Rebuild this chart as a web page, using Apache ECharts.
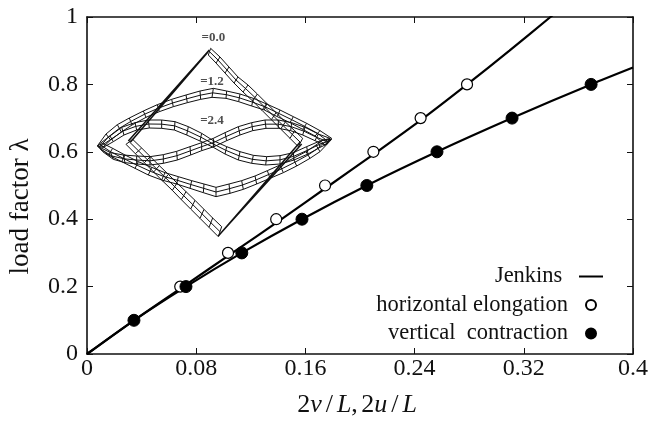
<!DOCTYPE html>
<html><head><meta charset="utf-8">
<style>html,body{margin:0;padding:0;background:#fff}#c{width:648px;height:421px}</style>
<script src="https://cdn.jsdelivr.net/npm/echarts@6/dist/echarts.min.js"></script>
</head><body><div id="c"></div>
<script>
// measured data
const jenkinsHorizontal = [[0,0],[0.0345,0.1],[0.0705,0.2],[0.1065,0.3],[0.1425,0.4],[0.1775,0.5],[0.2125,0.6],[0.2465,0.7],[0.2785,0.8],[0.3095,0.9],[0.3395,1.0],[0.35,1.036]];
const jenkinsVertical = [[0,0],[0.0345,0.1],[0.0725,0.2],[0.1134,0.3],[0.1575,0.4],[0.205,0.5],[0.2564,0.6],[0.3114,0.7],[0.3693,0.8],[0.4,0.85]];
const horizontalElongation = [[0.0683,0.2],[0.1033,0.3],[0.1386,0.4],[0.1744,0.5],[0.2098,0.6],[0.2444,0.7],[0.2784,0.8]];
const verticalContraction = [[0.0344,0.1],[0.0725,0.2],[0.1134,0.3],[0.1575,0.4],[0.205,0.5],[0.2564,0.6],[0.3114,0.7],[0.3693,0.8]];

// inset sketch: stations [xa,ya,xb,yb] in sketch units (y downward)
const flatBandA = [[392,115,385,135],[420,141,408,159],[447,171,435,189],[474,201,462,219],[504,225,489,246],[532,252,518,273],[560,280,546,301],[588,308,574,329],[616,336,602,357],[644,362,630,385],[668,385,655,410]];
const flatBandB = [[138,403,158,388],[166,431,185,414],[193,458,211,440],[221,486,238,467],[249,514,265,493],[277,541,291,519],[304,569,318,545],[332,597,345,571],[360,625,372,598],[387,652,398,624],[415,680,425,650]];
const edgeOnA = [[388,120,384,126],[145,393,151,397]];
const edgeOnB = [[660,397,665,402],[415,678,420,672]];
const midUpper = [[52,408,68,412],[78,372,92,390],[112,344,124,366],[148,324,156,345],[190,303,198,322],[232,284,238,305],[275,268,280,290],[318,255,322,278],[360,243,362,268],[400,235,396,262],[440,243,438,265],[480,252,476,275],[520,265,515,288],[560,282,553,300],[600,300,592,320],[640,320,630,338],[680,340,668,358],[720,362,705,378],[755,385,735,405]];
const midLower = [[52,408,68,400],[85,435,98,415],[125,455,135,435],[165,475,175,455],[205,495,215,472],[245,510,255,488],[290,522,295,500],[330,535,335,512],[370,548,372,522],[408,560,408,532],[450,550,447,522],[490,538,485,512],[530,522,525,498],[570,505,562,482],[610,488,600,465],[650,468,640,445],[690,445,678,425],[720,425,708,405],[755,388,728,390]];
const highCurveA = [[58,402,70,412],[90,378,100,395],[125,352,132,375],[165,338,170,360],[205,330,208,354],[245,330,245,355],[285,335,283,360],[325,350,320,375],[365,370,360,393],[400,392,400,412],[440,410,435,432],[480,425,475,450],[520,436,515,460],[560,440,557,465],[600,437,600,462],[640,428,642,450],[680,410,684,432],[715,395,720,412],[750,385,742,402]];
const highCurveB = [[55,410,68,425],[92,428,100,448],[130,435,135,458],[170,438,170,462],[210,440,210,465],[250,434,250,460],[290,424,292,450],[330,410,332,435],[365,398,365,422],[400,385,402,410],[435,368,440,392],[475,350,480,375],[515,338,518,362],[555,330,558,355],[595,330,595,355],[635,338,632,362],[675,352,668,375],[715,372,705,392],[750,385,735,405]];
const insetLabels = [[400,84,'=0.0'],[396,216,'=1.2'],[396,333,'=2.4']];

const BREAK = ['-','-'];
function band(st){
  const out=[];
  st.forEach(s=>out.push([s[0],s[1]])); out.push(BREAK);
  st.forEach(s=>out.push([(s[0]+s[2])/2,(s[1]+s[3])/2])); out.push(BREAK);
  st.forEach(s=>out.push([s[2],s[3]])); out.push(BREAK);
  st.forEach(s=>{out.push([s[0],s[1]],[s[2],s[3]],BREAK);});
  return out;
}
function rails(st){
  const out=[];
  st.forEach(s=>out.push([s[0],s[1]])); out.push(BREAK);
  st.forEach(s=>out.push([s[2],s[3]])); out.push(BREAK);
  return out;
}
function meshSeries(name,data,width){
  return {name,type:'line',xAxisIndex:2,yAxisIndex:2,data,showSymbol:false,symbol:'none',connectNulls:false,silent:true,animation:false,
    lineStyle:{color:'#111',width:width||1},z:1};
}
const serif='"Liberation Serif","Times New Roman",serif';
const ink='#111';
const tickOnly={show:true,inside:true,length:6,lineStyle:{color:ink,width:1}};
const line={show:true,onZero:false,lineStyle:{color:ink,width:1.6}};
const it={fontFamily:serif,fontStyle:'italic',fontSize:26,color:ink};
const rm={fontFamily:serif,fontSize:26,color:ink};
const rs={fontFamily:serif,fontSize:26,color:ink,padding:[0,4,0,4]};

const chart=echarts.init(document.getElementById('c'),null,{renderer:'canvas'});
chart.setOption({
  animation:false,
  backgroundColor:'#fff',
  grid:[{left:87,top:17,width:546,height:337,outerBoundsMode:'none'},{left:87,top:17,width:546,height:337,outerBoundsMode:'none'}],
  xAxis:[
    {type:'value',min:0,max:0.4,interval:0.08,gridIndex:0,position:'bottom',axisLine:line,axisTick:tickOnly,splitLine:{show:false},
     axisLabel:{fontFamily:serif,fontSize:24,color:ink,margin:3,hideOverlap:false,showMinLabel:true,showMaxLabel:true},
     name:'{r|2}{i|v}{s|/}{i|L}{r|,} {r|2}{i|u}{s|/}{i|L}',nameLocation:'middle',nameGap:38,
     nameTextStyle:{padding:[0,6,0,0],rich:{r:rm,i:it,s:rs}}},
    {type:'value',min:0,max:0.4,interval:0.08,gridIndex:0,position:'top',axisLine:line,axisTick:tickOnly,splitLine:{show:false},axisLabel:{show:false}},
    {type:'value',min:21,max:1659,gridIndex:1,show:false}
  ],
  yAxis:[
    {type:'value',min:0,max:1,interval:0.2,gridIndex:0,position:'left',axisLine:line,axisTick:tickOnly,splitLine:{show:false},
     axisLabel:{fontFamily:serif,fontSize:24,color:ink,margin:9},
     name:'load factor λ',nameLocation:'middle',nameGap:53,nameTextStyle:{fontFamily:serif,fontSize:27,color:ink,padding:[0,42,0,0]}},
    {type:'value',min:0,max:1,interval:0.2,gridIndex:0,position:'right',axisLine:line,axisTick:tickOnly,splitLine:{show:false},axisLabel:{show:false}},
    {type:'value',min:21,max:1032,inverse:true,gridIndex:1,show:false}
  ],
  legend:{orient:'vertical',align:'right',right:40,top:260,itemWidth:24,itemHeight:10,itemGap:5.5,
    selectedMode:false,
    data:[{name:'Jenkins',icon:'path://M0,0H24V2H0Z'},'horizontal elongation','vertical  contraction'],
    formatter:n=>n==='Jenkins'?n+' ':n,
    textStyle:{fontFamily:serif,fontSize:22.5,color:ink,padding:[0,6,0,0]}},
  series:[
    meshSeries('inset flat A',band(flatBandA)),
    meshSeries('inset flat B',band(flatBandB)),
    meshSeries('inset edge A',rails(edgeOnA),1.5),
    meshSeries('inset edge B',rails(edgeOnB),1.5),
    meshSeries('inset mid upper',band(midUpper)),
    meshSeries('inset mid lower',band(midLower)),
    meshSeries('inset high A',band(highCurveA)),
    meshSeries('inset high B',band(highCurveB)),
    {name:'inset labels',type:'scatter',xAxisIndex:2,yAxisIndex:2,data:insetLabels,symbolSize:0,silent:true,z:3,
     label:{show:true,position:'inside',formatter:p=>p.data[2],fontFamily:serif,fontWeight:'bold',fontSize:13,color:'#222'}},
    {name:'Jenkins',type:'line',xAxisIndex:0,yAxisIndex:0,data:jenkinsHorizontal,smooth:0.3,showSymbol:false,symbol:'none',lineStyle:{color:'#000',width:2.2},itemStyle:{color:'#000'},z:4},
    {name:'Jenkins vertical',type:'line',xAxisIndex:0,yAxisIndex:0,data:jenkinsVertical,smooth:0.3,showSymbol:false,symbol:'none',lineStyle:{color:'#000',width:2.2},itemStyle:{color:'#000'},z:4},
    {name:'horizontal elongation',type:'scatter',xAxisIndex:0,yAxisIndex:0,data:horizontalElongation,symbol:'circle',symbolSize:11,itemStyle:{color:'#fff',borderColor:'#000',borderWidth:1.2,opacity:1},z:5},
    {name:'vertical  contraction',type:'scatter',xAxisIndex:0,yAxisIndex:0,data:verticalContraction,symbol:'circle',symbolSize:12,itemStyle:{color:'#000',borderColor:'#000',borderWidth:1,opacity:1},z:6}
  ]
});
</script></body></html>
